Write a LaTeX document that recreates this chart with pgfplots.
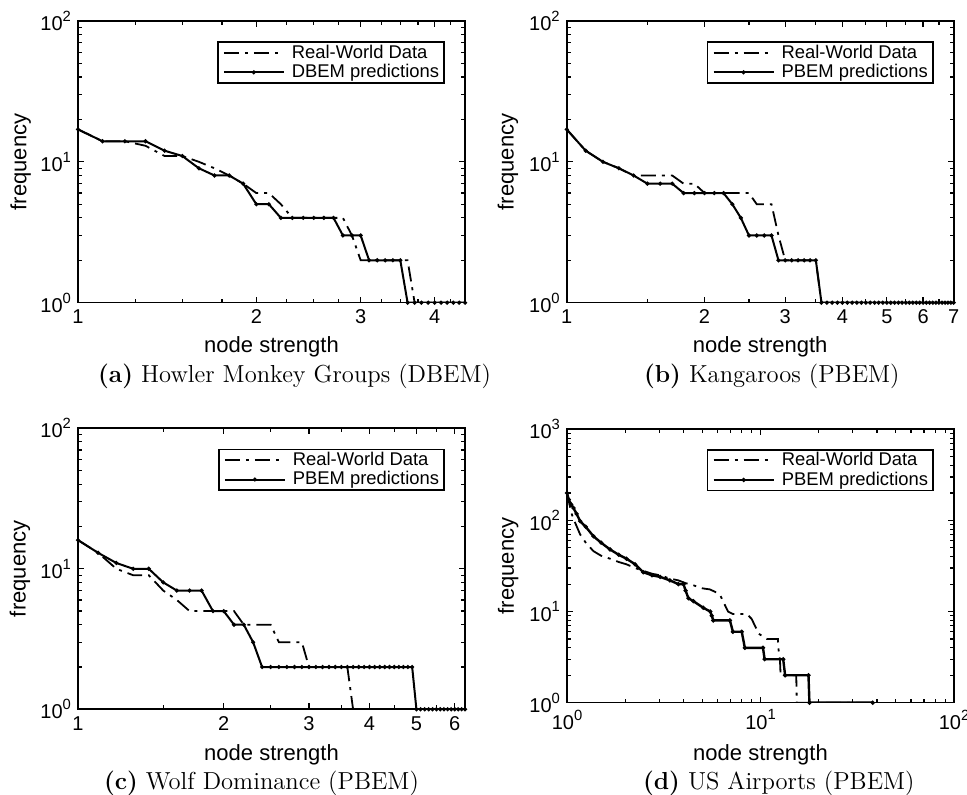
\documentclass[border=0pt]{standalone}
\usepackage{fontspec}
\newfontfamily\hv{Liberation Sans}
\usepackage{pgfplots}
\pgfplotsset{compat=1.18}
\newcommand\tp[1]{10\raisebox{4.6pt}{\fontsize{7.4}{8}\selectfont #1}}
\newcommand\lbf{\hv\fontsize{11}{13}\selectfont}
\pgfplotsset{
  ylab/.style={every axis y label/.style={at={(axis description cs:#1,0.5)}, rotate=90, anchor=center, font=\lbf}},
  xlab/.style={every axis x label/.style={at={(axis description cs:0.5,#1)}, anchor=center, font=\lbf}},
  myax/.style={
    scale only axis, width=193.5pt,
    axis line style={line width=0.8pt},
    every tick/.style={black, line width=0.6pt},
    major tick length=3pt, minor tick length=2pt,
    tick align=inside,
    ticklabel style={font=\hv\fontsize{10}{12}\selectfont},
    xlabel={node strength}, ylabel={frequency},
    ylab=-0.148, xlab=-0.157,
    legend cell align=left,
    legend image code/.code={\draw[##1, mark repeat=2, mark phase=2] plot coordinates {(0pt,0pt) (15pt,0pt) (30pt,0pt)};},
    legend style={at={(axis description cs:0.948,0.928)}, anchor=north east, draw=black, line width=0.8pt,
      font=\hv\fontsize{9.2}{10}\selectfont, inner xsep=2.5pt, inner ysep=0.4pt, row sep=0pt,
      nodes={inner sep=0pt, text height=7.6pt, text depth=2.2pt},
      /tikz/every odd column/.append style={column sep=3.5pt}},
  },
}
\tikzset{
  rw/.style={black, line width=0.9pt, dash pattern=on 7.5pt off 3pt on 1.5pt off 3pt, mark=none},
  pr/.style={black, line width=1pt, solid, mark=*, mark size=0.45pt},
}
\begin{document}
\begin{tikzpicture}
\useasboundingbox (0,0) rectangle (483.5pt,397.5pt);
% (a)
\begin{loglogaxis}[myax, at={(39pt,246.15pt)}, height=140.85pt,
  xmin=1, xmax=4.5, ymin=1, ymax=100,
  xtick={1,2,3,4}, xticklabels={1,2,3,4},
  minor xtick={1.25,1.5,1.75,2.25,2.5,2.75,3.25,3.5,3.75,4.25},
  ytick={1,10,100}, yticklabels={\tp{0},\tp{1},\tp{2}},
  minor ytick={2,3,4,5,6,7,8,9,20,30,40,50,60,70,80,90}]
\addplot[rw] coordinates {(1.0,17)(1.1,14)(1.2,14)(1.3,13)(1.4,11)(1.5,11)(1.6,10)(1.7,9)(1.8,8)(1.9,7)(2.0,6)(2.1,6)(2.2,5)(2.3,4)(2.4,4)(2.5,4)(2.6,4)(2.7,4)(2.8,4)(2.9,3)(3.0,2)(3.1,2)(3.2,2)(3.3,2)(3.4,2)(3.5,2)(3.6,2)(3.7,1)(3.8,1)(3.9,1)(4.0,1)(4.1,1)(4.2,1)(4.3,1)(4.4,1)(4.5,1)};
\addlegendentry{Real-World Data}
\addplot[pr] coordinates {(1.0,17)(1.1,14)(1.2,14)(1.3,14)(1.4,12)(1.5,11)(1.6,9)(1.7,8)(1.8,8)(1.9,7)(2.0,5)(2.1,5)(2.2,4)(2.3,4)(2.4,4)(2.5,4)(2.6,4)(2.7,4)(2.8,3)(2.9,3)(3.0,3)(3.1,2)(3.2,2)(3.3,2)(3.4,2)(3.5,2)(3.6,1)(3.7,1)(3.8,1)(3.9,1)(4.0,1)(4.1,1)(4.2,1)(4.3,1)(4.4,1)(4.5,1)};
\addlegendentry{DBEM predictions}
\end{loglogaxis}
% (b)
\begin{loglogaxis}[myax, at={(283.35pt,246.15pt)}, height=140.85pt, ylab=-0.152,
  xmin=1, xmax=7, ymin=1, ymax=100,
  xtick={1,2,3,4,5,6,7}, xticklabels={1,2,3,4,5,6,7},
  minor xtick={1.5,2.5,3.5,4.5,5.5,6.5},
  ytick={1,10,100}, yticklabels={\tp{0},\tp{1},\tp{2}},
  minor ytick={2,3,4,5,6,7,8,9,20,30,40,50,60,70,80,90}]
\addplot[rw] coordinates {(1.0,17)(1.1,12)(1.2,10)(1.3,9)(1.4,8)(1.5,8)(1.6,8)(1.7,8)(1.8,7)(1.9,7)(2.0,6)(2.1,6)(2.2,6)(2.3,6)(2.4,6)(2.5,6)(2.6,5)(2.7,5)(2.8,5)(2.9,3)(3.0,2)(3.1,2)(3.2,2)(3.3,2)(3.4,2)(3.5,2)(3.6,1)(3.8,1)(4.0,1)(4.2,1)(4.4,1)(4.6,1)(4.8,1)(5.0,1)(5.2,1)(5.4,1)(5.6,1)(5.8,1)(6.0,1)(6.2,1)(6.4,1)(6.6,1)(6.8,1)(7.0,1)};
\addlegendentry{Real-World Data}
\addplot[pr] coordinates {(1.0,17)(1.1,12)(1.2,10)(1.3,9)(1.4,8)(1.5,7)(1.6,7)(1.7,7)(1.8,6)(1.9,6)(2.0,6)(2.1,6)(2.2,6)(2.3,5)(2.4,4)(2.5,3)(2.6,3)(2.7,3)(2.8,3)(2.9,2)(3.0,2)(3.1,2)(3.2,2)(3.3,2)(3.4,2)(3.5,2)(3.6,1)(3.7,1)(3.8,1)(3.9,1)(4.0,1)(4.1,1)(4.2,1)(4.3,1)(4.4,1)(4.5,1)(4.6,1)(4.7,1)(4.8,1)(4.9,1)(5.0,1)(5.1,1)(5.2,1)(5.3,1)(5.4,1)(5.5,1)(5.6,1)(5.7,1)(5.8,1)(5.9,1)(6.0,1)(6.1,1)(6.2,1)(6.3,1)(6.4,1)(6.5,1)(6.6,1)(6.7,1)(6.8,1)(6.9,1)(7.0,1)};
\addlegendentry{PBEM predictions}
\end{loglogaxis}
% (c)
\begin{loglogaxis}[myax, at={(39pt,42.85pt)}, height=140.5pt, ylab=-0.15, xlab=-0.163,
  xmin=1, xmax=6.3, ymin=1, ymax=100,
  xtick={1,2,3,4,5,6}, xticklabels={1,2,3,4,5,6},
  minor xtick={1.5,2.5,3.5,4.5,5.5},
  ytick={1,10,100}, yticklabels={\tp{0},\tp{1},\tp{2}},
  minor ytick={2,3,4,5,6,7,8,9,20,30,40,50,60,70,80,90}]
\addplot[rw] coordinates {(1.0,16)(1.1,13)(1.2,10)(1.3,9)(1.4,9)(1.5,7)(1.6,6)(1.7,5)(1.8,5)(1.9,5)(2.0,5)(2.1,5)(2.2,4)(2.3,4)(2.4,4)(2.5,4)(2.6,3)(2.7,3)(2.8,3)(2.9,3)(3.0,2)(3.1,2)(3.2,2)(3.3,2)(3.4,2)(3.5,2)(3.6,2)(3.7,1)(3.9,1)(4.1,1)(4.3,1)(4.5,1)(4.7,1)(4.9,1)(5.1,1)(5.3,1)(5.5,1)(5.7,1)(5.9,1)(6.1,1)(6.3,1)};
\addlegendentry{Real-World Data}
\addplot[pr] coordinates {(1.0,16)(1.1,13)(1.2,11)(1.3,10)(1.4,10)(1.5,8)(1.6,7)(1.7,7)(1.8,7)(1.9,5)(2.0,5)(2.1,4)(2.2,4)(2.3,3)(2.4,2)(2.5,2)(2.6,2)(2.7,2)(2.8,2)(2.9,2)(3.0,2)(3.1,2)(3.2,2)(3.3,2)(3.4,2)(3.5,2)(3.6,2)(3.7,2)(3.8,2)(3.9,2)(4.0,2)(4.1,2)(4.2,2)(4.3,2)(4.4,2)(4.5,2)(4.6,2)(4.7,2)(4.8,2)(4.9,2)(5.0,1)(5.1,1)(5.2,1)(5.3,1)(5.4,1)(5.5,1)(5.6,1)(5.7,1)(5.8,1)(5.9,1)(6.0,1)(6.1,1)(6.2,1)(6.3,1)};
\addlegendentry{PBEM predictions}
\end{loglogaxis}
% (d)
\begin{loglogaxis}[myax, at={(283.5pt,46.15pt)}, height=136.7pt, ylab=-0.152, xlab=-0.191,
  xmin=1, xmax=100, ymin=1, ymax=1000,
  xtick={1,10,100}, xticklabels={\tp{0},\tp{1},\tp{2}},
  minor xtick={2,3,4,5,6,7,8,9,20,30,40,50,60,70,80,90},
  ytick={1,10,100,1000}, yticklabels={\tp{0},\tp{1},\tp{2},\tp{3}},
  minor ytick={2,3,4,5,6,7,8,9,20,30,40,50,60,70,80,90,200,300,400,500,600,700,800,900}]
\addplot[rw] coordinates {(1,200)(1.03,150)(1.06,116)(1.1,95)(1.17,70)(1.25,57)(1.37,46)(1.5,41)(1.67,38)(1.85,35)(2.03,33)(2.25,30)(2.48,28)(2.75,26)(3.03,25)(3.4,23)(3.76,22)(4.1,20.5)(4.48,19.5)(5.0,18)(5.47,17.5)(6.0,16)(6.2,15)(6.4,13)(6.8,10)(7.2,9.4)(8.5,9.4)(9.0,8.3)(9.8,5.7)(10.8,5)(12.3,5)(12.4,3.8)(12.6,3)(12.7,2)(15.3,2)(15.4,1)(38,1)};
\addlegendentry{Real-World Data}
\addplot[pr, line width=1.2pt, mark size=0.35pt] coordinates {(1,200)(1.02,170)(1.05,150)(1.08,137)(1.12,118)(1.17,98)(1.25,85)(1.37,67)(1.5,57)(1.67,48)(1.85,42)(2.03,38)(2.25,33)(2.48,27)(2.75,25)(3.03,24)(3.4,22)(3.76,20)(4.0,20)(4.1,17)(4.24,14)(4.5,13)(5.06,11)(5.5,10)(5.6,9)(5.7,8)(6.95,8)(7.2,6)(8.0,6)(8.3,4)(10.3,4)(10.5,3)(13.1,3)(13.4,2)(17.7,2)(17.9,1)(38,1)};
\addlegendentry{PBEM predictions}
\end{loglogaxis}
% captions
\node[anchor=base west, font=\fontsize{12.3}{14}\selectfont] at (45.5pt,206pt) {\textbf{(a)} Howler Monkey Groups (DBEM)};
\node[anchor=base west, font=\fontsize{12.3}{14}\selectfont] at (318.5pt,206pt) {\textbf{(b)} Kangaroos (PBEM)};
\node[anchor=base west, font=\fontsize{12.3}{14}\selectfont] at (48.5pt,2.5pt) {\textbf{(c)} Wolf Dominance (PBEM)};
\node[anchor=base west, font=\fontsize{12.3}{14}\selectfont] at (318pt,2.5pt) {\textbf{(d)} US Airports (PBEM)};
\end{tikzpicture}
\end{document}
